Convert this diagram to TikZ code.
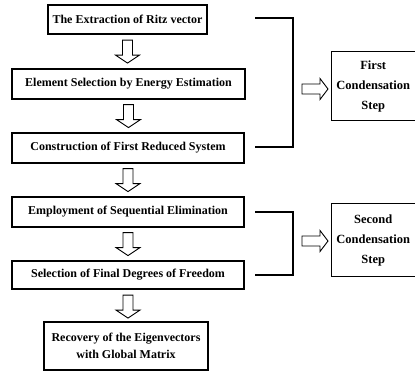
\documentclass[tikz,border=0pt]{standalone}
\usepackage{fontspec}
\setmainfont{Liberation Serif}
\usetikzlibrary{calc}
\tikzset{
  lbox/.style={draw, line width=1.2pt, inner sep=0pt, align=center,
    font=\bfseries\fontsize{12}{17}\selectfont},
  rbox/.style={draw=none, inner sep=0pt, align=center, minimum width=84, text width=84,
    font=\bfseries\fontsize{12.5}{20}\selectfont},
  rline/.style={line width=0.8pt},
  blk/.style={draw, line width=0.9pt, fill=white, line join=miter},
  brk/.style={line width=1.5pt},
  downarr/.pic={\path[blk] (-5,0) -- (-5,15) -- (-12,15) -- (0,23) -- (12,15) -- (5,15) -- (5,0) -- cycle;},
  rightarr/.pic={\path[blk] (0,-5) -- (18,-5) -- (18,-10.5) -- (26,0) -- (18,10.5) -- (18,5) -- (0,5) -- cycle;}
}
\begin{document}
\begin{tikzpicture}[x=1pt,y=-1pt]
\useasboundingbox (0,0) rectangle (415,372);
\clip (0,0) rectangle (415,372);
% left column
\node[lbox, minimum width=159, minimum height=29] (b1) at (127.5,19.5) {The Extraction of Ritz vector};
\node[lbox, minimum width=233, minimum height=30] (b2) at (128.5,84) {Element Selection by Energy Estimation};
\node[lbox, minimum width=232, minimum height=30] (b3) at (128,148) {Construction of First Reduced System};
\node[lbox, minimum width=232, minimum height=30] (b4) at (128,212) {Employment of Sequential Elimination};
\node[lbox, minimum width=232, minimum height=28] (b5) at (128,275) {Selection of Final Degrees of Freedom};
\node[lbox, minimum width=164, minimum height=48] (b6) at (126,346) {Recovery of the Eigenvectors\\with Global Matrix};
% down arrows
\path (b1.south) ++(0,5.5) pic {downarr};
\path (b2.south) ++(0,5) pic {downarr};
\path (b3.south) ++(0,5) pic {downarr};
\path (b4.south) ++(0,5) pic {downarr};
\path (b5.south) ++(0,5.5) pic {downarr};
% right boxes
\node[rbox, minimum height=68, anchor=west] (r1) at (331,86) {First\\Condensation\\Step};
\node[rbox, minimum height=72, anchor=west] (r2) at (331,240) {Second\\Condensation\\Step};
\draw[rline] (r1.north east) -- (r1.north west) -- (r1.south west) -- (r1.south east);
\draw[rline] (r2.north east) -- (r2.north west) -- (r2.south west) -- (r2.south east);
% brackets
\coordinate (kx) at (255,0);
\coordinate (ky) at (293,0);
\draw[brk] ($(b1.east -| kx)+(0,-1.5)$) -- ($(b1.east -| ky)+(0,-1.5)$) -- ($(b3.east -| ky)+(0,-1)$) -- ($(b3.east -| kx)+(0,-1)$);
\draw[brk] (b4.east -| kx) -- (b4.east -| ky) -- (b5.east -| ky) -- (b5.east -| kx);
% right arrows
\path (r1.west) ++(-29,3) pic {rightarr};
\path (r2.west) ++(-29,1) pic {rightarr};
\end{tikzpicture}
\end{document}
